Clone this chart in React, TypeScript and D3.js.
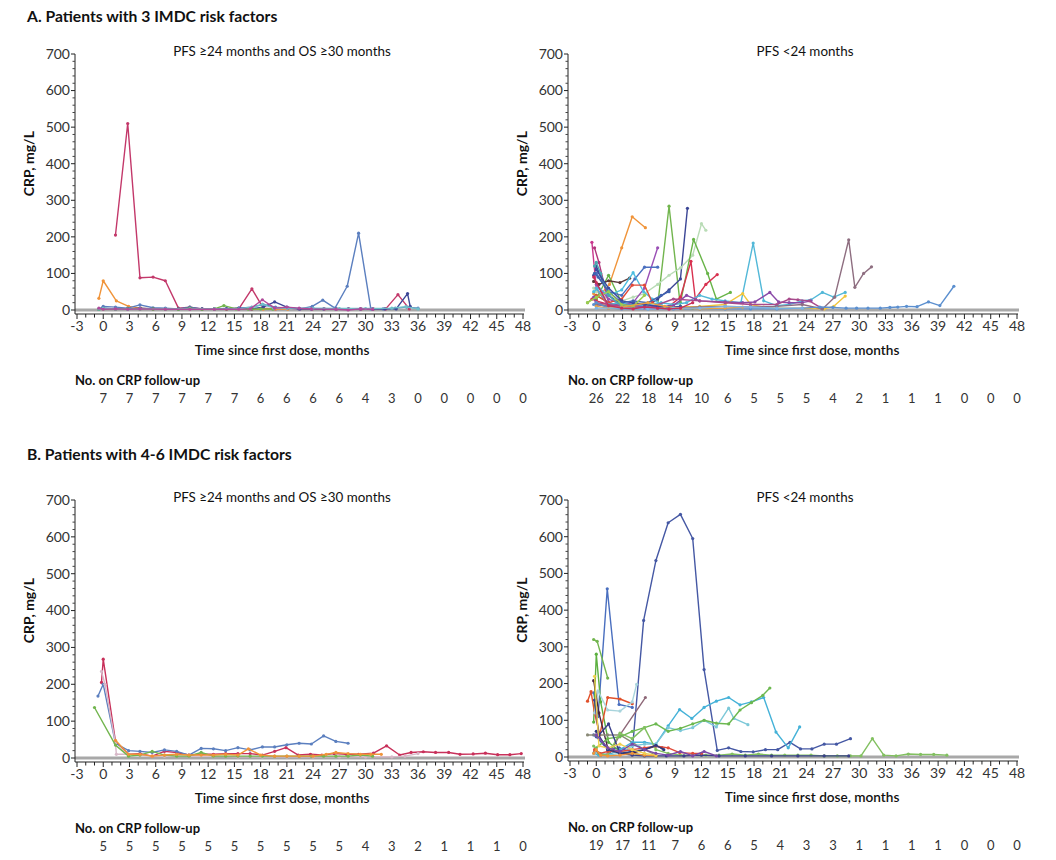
import React from "react";
import * as d3 from "d3";

// ---------- axis / table data ----------
const xTicks = d3.range(-3, 49, 3);
const yTicks = [0, 100, 200, 300, 400, 500, 600, 700];
const atRiskMonths = d3.range(0, 49, 3);

const atRiskA1 = [7, 7, 7, 7, 7, 7, 6, 6, 6, 6, 4, 3, 0, 0, 0, 0, 0];
const atRiskA2 = [26, 22, 18, 14, 10, 6, 5, 5, 5, 4, 2, 1, 1, 1, 0, 0, 0];
const atRiskB1 = [5, 5, 5, 5, 5, 5, 5, 5, 5, 5, 4, 3, 2, 1, 1, 1, 0];
const atRiskB2 = [19, 17, 11, 7, 6, 6, 5, 4, 3, 3, 1, 1, 1, 1, 0, 0, 0];

// ---------- series: [month, CRP mg/L] ----------
const seriesA1: number[][][] = [
  [[1.4,205],[2.8,510],[4.2,88],[5.7,90],[7.1,80],[8.6,5],[9.9,8],[11.3,3],[12.7,3],[14.1,3],[15.5,3],[17.0,58],[18.3,5],[19.7,3],[21.1,5],[22.5,3],[23.9,3],[25.3,3],[26.7,3],[28.1,3],[29.5,3],[30.9,3],[32.3,3],[33.7,42],[35.0,3]],
  [[-0.5,32],[0,80],[1.5,25],[2.9,10],[4.3,5],[5.7,3],[7.1,3],[8.6,3],[9.9,3],[11.3,2],[12.7,2],[14.1,2],[15.5,3],[17.0,2],[18.3,2],[19.7,3],[21.1,2]],
  [[-0.5,2],[0,10],[1.4,8],[2.8,5],[4.2,14],[5.7,6],[7.1,5],[8.6,3],[9.9,8],[11.3,3],[12.7,3],[14.1,4],[15.5,5],[17.0,8],[18.3,15],[19.7,8],[21.1,5],[22.5,3],[23.9,10],[25.1,27],[26.5,5],[27.9,65],[29.2,210],[30.6,3],[32.0,3],[33.4,5],[34.7,8],[36.0,5]],
  [[-0.5,3],[0,5],[1.4,3],[2.8,3],[4.2,5],[5.7,3],[7.1,3],[8.6,3],[9.9,5],[11.3,3],[12.7,3],[14.1,3],[15.5,5],[17.0,3],[18.3,8],[19.6,22],[21.0,8],[22.4,3],[23.8,3],[25.2,3],[26.6,3],[28.0,3],[29.4,3],[30.8,3],[32.2,3],[33.5,3],[34.8,45],[35.1,10]],
  [[-0.5,2],[0,3],[1.4,2],[2.8,3],[4.2,2],[5.7,3],[7.1,2],[8.6,2],[9.9,5],[11.3,2],[12.7,3],[13.8,12],[15.2,3],[16.6,2],[18.0,3],[19.4,2]],
  [[-0.5,3],[0,5],[1.4,3],[2.8,2],[4.2,3],[7.1,3],[9.9,3],[12.7,3],[15.5,3],[17.4,10],[18.2,16],[19.5,5],[21,5],[24,5],[27,4],[30,4],[33,5],[34.6,9],[36.0,3]],
  [[-0.5,5],[0,2],[1.4,3],[2.8,2],[4.2,3],[7.1,2],[9.9,2],[12.7,2],[15.5,2],[16.8,3],[18.2,28],[19.6,5],[21,8],[22.4,5],[23.8,3],[26.6,2],[28.0,0],[29.4,3],[30.8,2]],
];
const colorsA1 = ["#c3386a", "#f0943a", "#5b7fbf", "#3c4696", "#72b54e", "#6fc0c8", "#b04a9a"];

const seriesA2: number[][][] = [
  [[-0.3,45],[0,30],[1.5,70],[2.9,170],[4.1,255],[5.6,225]],
  [[-1,20],[0,40],[1.4,20],[2.9,10],[4.2,8],[5.5,10],[7.0,12],[8.3,284],[9.6,10],[11.0,5]],
  [[-0.3,95],[0,120],[1.4,40],[2.9,15],[4.2,10],[5.5,8],[7.0,30],[8.3,55],[9.6,85],[10.4,278]],
  [[-0.3,60],[0,50],[1.4,30],[2.9,25],[4.2,35],[5.5,45],[7.0,70],[8.3,95],[9.6,115],[11.0,150],[12.0,236],[12.5,218]],
  [[0,30],[1.4,95],[2.9,20],[4.2,10],[5.5,8],[7.0,5],[8.3,10],[9.6,20],[11.1,193],[12.7,100],[13.7,30],[15.3,48]],
  [[-0.5,30],[0,25],[1.4,15],[2.9,10],[4.2,8],[5.5,5],[7.0,8],[8.3,10],[9.6,35],[10.8,133],[11.3,30],[12.5,70],[13.8,97]],
  [[-0.5,185],[0,60],[1.4,10],[2.9,8],[4.2,12],[5.5,5],[7.0,5],[8.3,3]],
  [[-0.2,170],[0.3,130],[1.4,20],[2.9,10],[4.2,15],[5.5,10]],
  [[0,70],[1.4,30],[2.9,15],[4.2,20],[5.5,60],[7.0,170]],
  [[0,100],[1.4,50],[2.9,40],[4.4,85],[5.5,117],[7.0,117]],
  [[-0.3,78],[0.3,70],[1.4,80],[2.7,75],[3.8,87]],
  [[-0.3,50],[0.3,60],[1.4,40],[2.9,55],[4.2,102],[5.4,50],[6.4,30],[7.4,15]],
  [[0,40],[1.4,20],[2.9,30],[4.1,68],[5.5,68],[6.4,20],[7.4,10]],
  [[0,60],[1.4,15],[2.9,20],[4.4,10],[5.9,15],[7.4,20],[8.8,15],[10.3,20],[11.8,40],[13.2,30],[14.7,25],[16.5,20],[17.9,183],[19.1,25],[20.6,12],[22.0,15],[23.5,25],[24.5,28],[25.8,48],[27.1,35],[28.4,48]],
  [[0,20],[1.4,10],[2.9,5],[5.9,10],[8.8,8],[11.8,10],[14.7,15],[16.7,45],[17.6,15],[19.1,8],[20.6,5],[23.5,5],[26.0,3],[27.1,10],[28.4,38]],
  [[-0.3,35],[0,15],[1.4,10],[2.9,15],[5.9,8],[8.8,12],[10.3,40],[11.8,25],[14.7,22],[16.7,20],[18.1,22],[19.8,48],[20.8,22],[22.0,20],[23.5,20],[24.5,25]],
  [[0,20],[2.9,10],[5.9,5],[8.8,30],[11.8,25],[14.7,20],[17.6,15],[20.6,15],[22.0,30],[23.0,28],[24.3,25],[25.7,5]],
  [[0,15],[2.9,5],[5.9,5],[8.8,5],[11.8,8],[14.7,10],[17.6,8],[20.6,10],[23.5,15],[25.8,3],[27.2,35],[28.8,192],[29.5,62],[30.5,100],[31.4,118]],
  [[-0.3,15],[0,20],[1.4,5],[2.9,3],[5.9,3],[8.8,3],[11.8,3],[14.7,3],[17.6,3],[20.6,3],[23.5,5],[25.5,8],[27.0,7],[28.5,5],[29.7,5],[31.0,5],[32.4,5],[33.5,7],[34.4,8],[35.4,10],[36.6,9],[37.9,22],[39.2,12],[40.8,65]],
  [[-0.2,120],[0,130],[0.5,100],[1.4,40],[2.9,10],[4.2,15]],
  [[0,110],[1.4,60],[2.9,25],[4.2,20],[5.5,15],[7.0,10],[8.3,8],[9.6,10]],
  [[-0.2,100],[0.2,90],[1.4,50],[2.9,20],[4.2,25],[5.9,20],[7.4,40],[8.3,50]],
  [[-1,20],[0,35],[1.4,50],[2.9,15],[4.2,10],[5.5,40]],
  [[0,10],[1.4,5],[2.9,8],[5.9,20],[7.8,10],[9.8,5],[11.8,3],[14.7,5],[16.7,8]],
  [[0,5],[2.9,5],[5.9,3],[8.8,5],[11.8,5],[14.7,10],[17.6,8],[20.6,5],[23.5,5]],
  [[-0.3,90],[0,75],[1.4,12],[2.9,5],[4.2,3],[5.5,8],[7.0,5],[8.3,3],[9.6,5],[11.0,20]],
];
const colorsA2 = [
  "#f0943a", "#72b54e", "#3c4696", "#b9dcb6", "#68b448", "#d8314f", "#c8388e", "#b0357a",
  "#9a4fb5", "#4a6fbf", "#5a3838", "#4cbde0", "#e04a3a", "#52b8d8", "#f0c53c", "#8a4aa8",
  "#a84a8c", "#8e6e80", "#5b8fcf", "#4aa8b0", "#3b4aa0", "#3f62b0", "#9ccc50", "#e8a040",
  "#7fb5e5", "#c8305a",
];

const seriesB1: number[][][] = [
  [[-0.2,205],[0,268],[1.4,45],[2.9,10],[4.2,12],[5.6,5],[7,18],[8.4,15],[9.8,8],[11.2,10],[12.6,10],[14,12],[15.4,12],[16.8,12],[18.2,8],[19.6,18],[20.9,28],[22.3,8],[23.7,10],[25,8],[26.4,12],[27.8,10],[29.2,10],[30.9,13],[32.4,33],[33.9,8],[35.2,15],[36.6,17],[38,15],[39.5,15],[40.8,10],[42.3,11],[43.7,13],[45.1,9],[46.5,9],[47.8,12]],
  [[-0.6,168],[0,200],[1.4,40],[2.9,20],[4.2,18],[5.6,15],[7,22],[8.4,18],[9.8,8],[11.2,26],[12.6,25],[14,20],[15.4,28],[16.8,22],[18.2,30],[19.6,30],[21,36],[22.4,40],[23.8,38],[25.2,60],[26.6,45],[28,40]],
  [[-0.2,235],[0.2,200],[1.4,40],[1.5,10],[2.9,10],[4.2,8],[5.6,5],[7,5],[9.8,5],[12.6,5],[15.4,3],[18.2,3],[21,3],[24,3],[27,3],[30,3],[33,3],[34.5,5],[36,12]],
  [[-1,137],[1.4,35],[2.9,5],[4.2,8],[5.6,18],[7,8],[8.4,5],[9.8,5],[11.2,15],[12.6,5],[14,5],[15.4,5],[16.8,5],[18.2,5],[19.6,5],[21,5],[22.4,5],[23.8,5],[25.2,5],[26.6,5],[28,5],[29.4,8],[30.8,5]],
  [[1.4,48],[2.9,10],[4.2,10],[5.6,5],[7,8],[8.4,10],[9.8,8],[11.2,8],[12.6,8],[14,10],[15.4,8],[16.6,25],[18,8],[19.6,5],[21,5],[22.4,5],[24,5],[25.5,10],[26.6,15],[28,12],[29.4,10],[30.6,10],[31.8,10]],
];
const colorsB1 = ["#c8305a", "#5b7fbf", "#d8b8c8", "#72b54e", "#f0943a"];

const seriesB2: number[][][] = [
  [[-0.3,60],[0,55],[1.3,20],[2.6,25],[4.1,15],[5.4,372],[6.8,535],[8.2,638],[9.6,661],[11.0,595],[12.3,238],[13.8,18],[15.1,25],[16.5,15],[17.9,14],[19.3,20],[20.7,20],[22.1,40],[23.3,22],[24.6,22],[26.0,35],[27.4,35],[29.0,50]],
  [[-0.3,175],[0.2,110],[1.25,458],[2.6,143],[4.1,135]],
  [[-0.3,320],[0.1,315],[1.3,215]],
  [[-0.3,95],[0,280],[0.5,150],[1.4,40],[2.7,15],[4.1,10],[5.5,5],[6.8,3]],
  [[-1,152],[-0.6,178],[-0.2,120],[0.4,60],[1.3,162],[2.7,158],[4.1,145]],
  [[-0.2,120],[0.2,180],[1.3,128],[2.7,125],[4.1,150],[4.6,198]],
  [[-0.2,15],[0.5,5],[1.5,10],[2.7,60],[5.6,162]],
  [[-0.3,208],[0.3,120],[1.3,25],[2.7,10],[4.1,10],[5.5,20],[6.8,30],[7.5,25]],
  [[-1,60],[0,60],[1.3,60],[2.7,60],[4.1,40],[5.5,20],[6.8,5]],
  [[-0.3,10],[0.3,5],[1.3,5],[2.7,20],[4.1,40],[5.5,40],[6.8,35],[8.2,85],[9.5,129],[10.9,105],[12.3,135],[13.7,152],[15.1,162],[16.4,142],[17.7,150],[19.1,162],[20.5,68],[21.9,25],[23.2,82]],
  [[0,15],[1.3,5],[2.7,10],[4.1,30],[5.5,35],[6.8,35],[8.2,80],[9.6,72],[11.0,80],[12.3,100],[13.7,82],[15.1,133],[15.7,105],[17.3,88]],
  [[0,25],[1.3,50],[2.7,55],[4.1,70],[5.5,80],[6.8,90],[8.2,70],[9.6,78],[11.0,90],[12.3,100],[13.7,92],[15.1,90],[16.4,128],[17.7,148],[19.0,168],[19.8,188]],
  [[-0.3,30],[0.3,10],[1.3,5],[2.7,65],[4.1,50],[5.5,80],[6.8,20],[8.2,10],[9.6,5],[11,5],[12.5,5],[14,5],[15.5,8],[17,5],[18.5,8],[20,5],[21.5,5],[23,5],[24.5,5],[26,3],[27.5,3],[29,3],[30.2,3],[31.5,50],[32.8,5],[34.2,3],[35.6,8],[37.0,7],[38.5,7],[40.0,5]],
  [[-0.2,155],[0.3,60],[1.4,90],[2.7,10],[4.1,5],[5.5,3],[8,3],[10,3],[12,5],[14,3],[17,3],[20,3],[23,3],[26,3],[28.8,3]],
  [[-0.2,20],[0.4,10],[1.3,15],[2.7,15],[4.1,20],[5.5,25],[6.8,30],[8.2,25],[9.5,12],[11,10],[12,10]],
  [[0,70],[1.3,20],[2.7,10],[4.1,15],[5.5,20],[6.8,32],[7.7,20]],
  [[-0.3,10],[0,20],[0.5,5],[1.3,3],[2.7,5],[4.1,10],[5.5,5],[6.8,3]],
  [[-0.2,220],[0.3,30],[1.3,25],[2.7,35],[4.1,20],[5.5,10],[6.8,5]],
  [[0,60],[1.3,25],[2.7,15],[4.1,35],[5.5,20],[6.8,10],[8.2,5],[9.6,15],[11,3],[12.3,15],[13.7,3]],
];
const colorsB2 = [
  "#4558a4", "#4a6fbf", "#72b54e", "#5cb040", "#e0502a", "#a8d4dc", "#8e6878", "#4a2840",
  "#8a8a78", "#45b2d8", "#7cc8d8", "#6cb850", "#82c060", "#3a3f8a", "#e04a3a", "#2e3a80",
  "#f0943a", "#f0d050", "#7a48a8",
];

// ---------- layout ----------
const FONT = "Lato, 'Open Sans', sans-serif";

type PanelProps = {
  xRange: [number, number];
  yRange: [number, number];
  series: number[][][];
  colors: string[];
  atRisk: number[];
  subtitle: string;
  subtitleX: number;
  axisTitleX: number;
};

function Panel({ xRange, yRange, series, colors, atRisk, subtitle, subtitleX, axisTitleX }: PanelProps) {
  const x = d3.scaleLinear().domain([-3, 48]).range(xRange);
  const y = d3.scaleLinear().domain([0, 700]).range(yRange);
  const line = d3.line<number[]>().x((d) => x(d[0])).y((d) => y(d[1]));
  const axisX = xRange[0] - 2;
  const baseY = y(0);
  const xAxisY = baseY + 4;
  const minorY = d3.range(0, 701, 20).filter((v) => v % 100 !== 0);
  const monthTicks = d3.range(-3, 49, 1);
  return (
    <g>
      <text x={subtitleX} y={y(700) + 2} textAnchor="middle" fontSize={13.4} fill="#111" fontFamily={FONT}>
        {subtitle}
      </text>
      {/* reference line */}
      <line x1={axisX} x2={xRange[1] + 2} y1={baseY} y2={baseY} stroke="#a8a8a8" strokeWidth={3} />
      {/* y axis */}
      <line x1={axisX} x2={axisX} y1={y(700)} y2={xAxisY} stroke="#222" strokeWidth={1} />
      {yTicks.map((v) => (
        <g key={"yt" + v}>
          <line x1={axisX - 4} x2={axisX} y1={y(v)} y2={y(v)} stroke="#222" />
          <text x={axisX - 5} y={y(v)} dy="0.35em" textAnchor="end" fontSize={14} fill="#333" fontFamily={FONT}>
            {v}
          </text>
        </g>
      ))}
      {minorY.map((v) => (
        <line key={"ym" + v} x1={axisX - 2.5} x2={axisX} y1={y(v)} y2={y(v)} stroke="#444" />
      ))}
      <text
        transform={`translate(${xRange[0] - 43},${y(400)}) rotate(-90)`}
        textAnchor="middle"
        fontSize={14}
        fontWeight={700}
        fill="#111"
        fontFamily={FONT}
      >
        CRP, mg/L
      </text>
      {/* x axis */}
      <line x1={axisX} x2={xRange[1] + 1} y1={xAxisY} y2={xAxisY} stroke="#222" strokeWidth={1} />
      {monthTicks.map((m) => (
        <line
          key={"xm" + m}
          x1={x(m)}
          x2={x(m)}
          y1={xAxisY}
          y2={xAxisY + (m % 3 === 0 ? 5 : 3.5)}
          stroke="#222"
        />
      ))}
      {xTicks.map((m) => (
        <text key={"xt" + m} x={x(m)} y={xAxisY + 12} dy="0.35em" textAnchor="middle" fontSize={14} fill="#333" fontFamily={FONT}>
          {m}
        </text>
      ))}
      <text x={axisTitleX} y={xAxisY + 36} dy="0.35em" textAnchor="middle" fontSize={13.6} fontWeight={600} fill="#111" fontFamily={FONT}>
        Time since first dose, months
      </text>
      {/* at-risk table */}
      <text x={xRange[0] - 2} y={xAxisY + 66} dy="0.35em" fontSize={13} fontWeight={700} fill="#111" fontFamily={FONT}>
        No. on CRP follow-up
      </text>
      {atRisk.map((n, i) => (
        <text key={"ar" + i} x={x(atRiskMonths[i])} y={xAxisY + 84} dy="0.35em" textAnchor="middle" fontSize={13} fill="#333" fontFamily={FONT}>
          {n}
        </text>
      ))}
      {/* patient lines */}
      {series.map((s, i) => (
        <g key={"s" + i}>
          <path d={line(s) || ""} fill="none" stroke={colors[i % colors.length]} strokeWidth={1.4} strokeLinejoin="round" />
          {s.map((p, j) => (
            <circle key={j} cx={x(p[0])} cy={y(p[1])} r={1.6} fill={colors[i % colors.length]} />
          ))}
        </g>
      ))}
    </g>
  );
}

export default function App() {
  return (
    <svg
      width={1056}
      height={860}
      viewBox="0 0 1056 860"
      style={{ position: "absolute", left: 0, top: 0, background: "#fff" }}
    >
      <rect width={1056} height={860} fill="#fff" />
      <text x={27} y={17} dy="0.35em" fontSize={15.7} fontWeight={700} fill="#111" fontFamily={FONT}>
        A. Patients with 3 IMDC risk factors
      </text>
      <text x={27} y={455} dy="0.35em" fontSize={15.7} fontWeight={700} fill="#111" fontFamily={FONT}>
        B. Patients with 4-6 IMDC risk factors
      </text>
      <Panel xRange={[77, 523]} yRange={[310, 54]} series={seriesA1} colors={colorsA1} atRisk={atRiskA1} subtitle="PFS ≥24 months and OS ≥30 months" subtitleX={282} axisTitleX={282} />
      <Panel xRange={[570, 1017]} yRange={[310, 54]} series={seriesA2} colors={colorsA2} atRisk={atRiskA2} subtitle="PFS <24 months" subtitleX={805} axisTitleX={812} />
      <Panel xRange={[77, 523]} yRange={[758, 500]} series={seriesB1} colors={colorsB1} atRisk={atRiskB1} subtitle="PFS ≥24 months and OS ≥30 months" subtitleX={282} axisTitleX={282} />
      <Panel xRange={[570, 1017]} yRange={[757, 500]} series={seriesB2} colors={colorsB2} atRisk={atRiskB2} subtitle="PFS <24 months" subtitleX={805} axisTitleX={812} />
    </svg>
  );
}
